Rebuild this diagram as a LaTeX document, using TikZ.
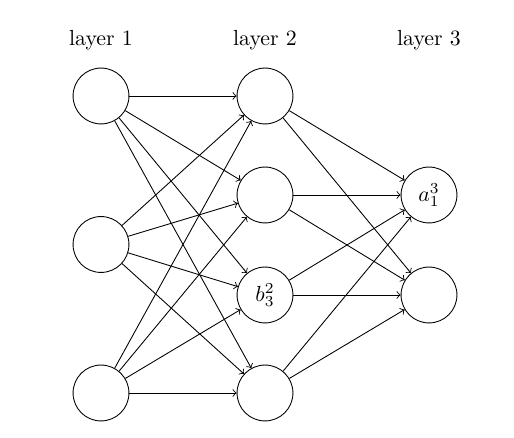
\documentclass[tikz,border=0pt]{standalone}
\usetikzlibrary{positioning}
\begin{document}
\begin{tikzpicture}[x=0.458pt,y=0.458pt]
    \tikzset{neuron/.style={circle,draw,minimum size=25.6pt,inner sep=0pt}}
    \useasboundingbox (0,0) rectangle (514,438);
    % input layer
    \node[neuron] (i1) at (101,342) {};
    \node[neuron] (i2) at (101,193.5) {};
    \node[neuron] (i3) at (101,45) {};
    % hidden layer
    \node[neuron] (h1) at (265,342) {};
    \node[neuron] (h2) at (265,243) {};
    \node[neuron] (h3) at (265,143) {$b_3^2$};
    \node[neuron] (h4) at (265,45) {};
    % output layer
    \node[neuron] (o1) at (429,243) {$a_1^3$};
    \node[neuron] (o2) at (429,143) {};
    \node (t1) at (101,398) {layer 1};
    \node (t2) at (265,398) {layer 2};
    \node (t3) at (429,398) {layer 3};
    \foreach \a in {1,...,3}
      \foreach \b in {1,...,4}
        \draw[->] (i\a) -- (h\b);
    \foreach \a in {1,...,4}
      \foreach \b in {1,2}
        \draw[->] (h\a) -- (o\b);
  \end{tikzpicture}
\end{document}
